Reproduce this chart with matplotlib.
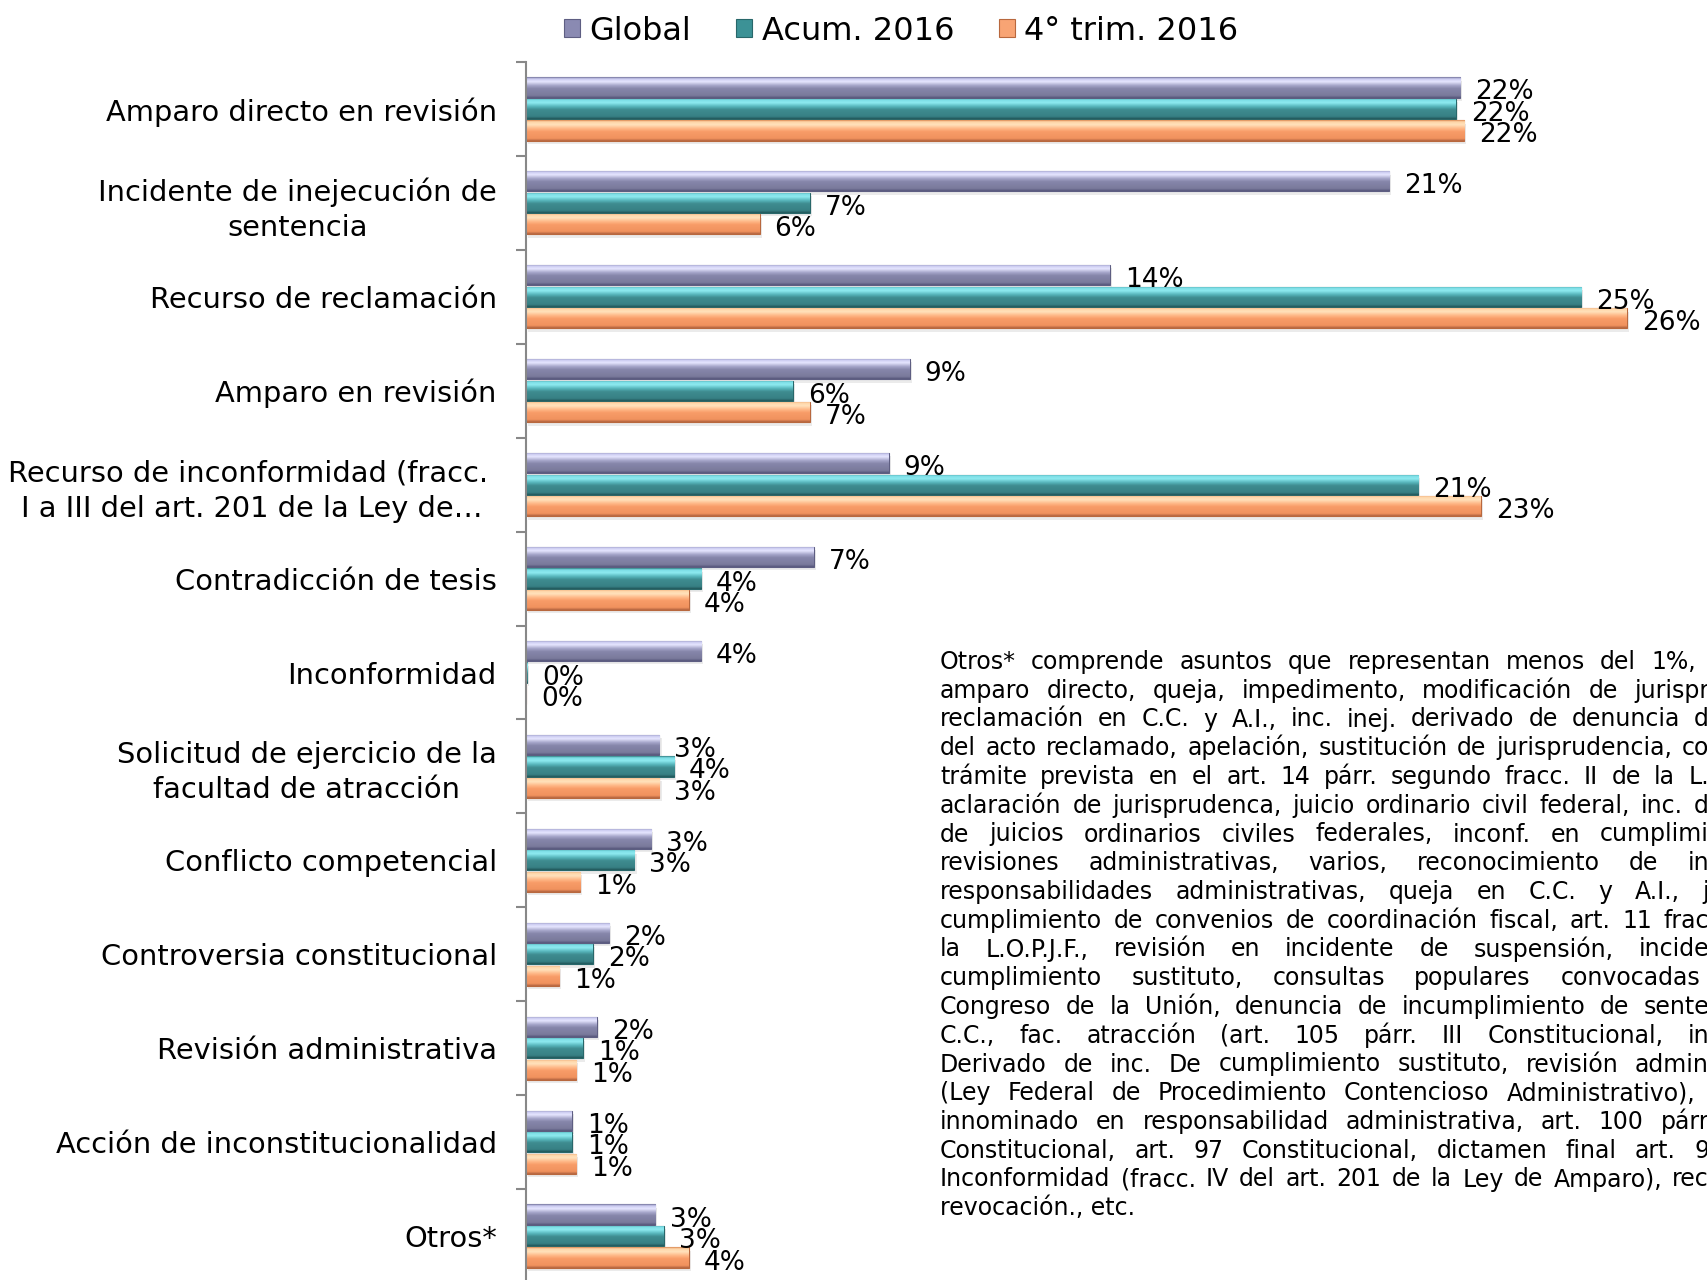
import numpy as np
import matplotlib
matplotlib.use("Agg")
import matplotlib.pyplot as plt
from matplotlib.colors import LinearSegmentedColormap
from matplotlib.patches import Patch

plt.rcParams['font.family'] = ['DejaVu Sans']

categories = [
    "Amparo directo en revisión",
    "Incidente de inejecución de\nsentencia",
    "Recurso de reclamación",
    "Amparo en revisión",
    "Recurso de inconformidad (fracc. \nI a III del art. 201 de la Ley de…",
    "Contradicción de tesis",
    "Inconformidad",
    "Solicitud de ejercicio de la\nfacultad de atracción",
    "Conflicto competencial",
    "Controversia constitucional",
    "Revisión administrativa",
    "Acción de inconstitucionalidad",
    "Otros*",
]
series_names = ["Global", "Acum. 2016", "4° trim. 2016"]
global_vals = [22.4, 20.7, 14.0, 9.2, 8.7, 6.9, 4.2, 3.2, 3.0, 2.0, 1.7, 1.1, 3.1]
acum_vals = [22.3, 6.8, 25.3, 6.4, 21.4, 4.2, 0.03, 3.55, 2.6, 1.6, 1.36, 1.1, 3.3]
trim_vals = [22.5, 5.6, 26.4, 6.8, 22.9, 3.9, 0.0, 3.2, 1.3, 0.8, 1.2, 1.2, 3.9]

note_lines = [
    "Otros* comprende asuntos que representan menos del 1%,",
    "amparo directo, queja, impedimento, modificación de jurispr",
    "reclamación en C.C. y A.I., inc. inej. derivado de denuncia d",
    "del acto reclamado, apelación, sustitución de jurisprudencia, co",
    "trámite prevista en el art. 14 párr. segundo fracc. II de la L.",
    "aclaración de jurisprudenca, juicio ordinario civil federal, inc. d",
    "de juicios ordinarios civiles federales, inconf. en cumplimi",
    "revisiones administrativas, varios, reconocimiento de in",
    "responsabilidades administrativas, queja en C.C. y A.I., j",
    "cumplimiento de convenios de coordinación fiscal, art. 11 frac",
    "la L.O.P.J.F., revisión en incidente de suspensión, incide",
    "cumplimiento sustituto, consultas populares convocadas",
    "Congreso de la Unión, denuncia de incumplimiento de sente",
    "C.C., fac. atracción (art. 105 párr. III Constitucional, in",
    "Derivado de inc. De cumplimiento sustituto, revisión admin",
    "(Ley Federal de Procedimiento Contencioso Administrativo),",
    "innominado en responsabilidad administrativa,  art. 100 párr",
    "Constitucional, art. 97 Constitucional, dictamen final art. 9",
    "Inconformidad (fracc. IV del art. 201 de la Ley de Amparo), rec",
    "revocación., etc.",
]
# right end (px) of each justified line; None = not justified
note_ends = [1696, 1709, 1709, 1709, 1709, 1709, 1709, 1709, 1709, 1709,
             1709, 1700, 1709, 1709, 1709, 1695, 1709, 1709, 1709, None]

W, H = 1707, 1280
fig = plt.figure(figsize=(W / 100, H / 100), dpi=100)
ax_left, ax_top, ax_bottom = 526, 62, 1283
ax = fig.add_axes([ax_left / W, 1 - ax_bottom / H, (W - ax_left) / W, (ax_bottom - ax_top) / H])

px_per_pct = 41.7
xmax = (W - ax_left) / px_per_pct

stops = [
    [(0, '#6E6E96'), (0.08, '#C8C8EE'), (0.22, '#E6E6FF'), (0.40, '#A6A6CA'),
     (0.55, '#8686AA'), (0.88, '#7A7A9C'), (1, '#55557A')],
    [(0, '#2F7A7E'), (0.08, '#7ADCE4'), (0.22, '#8EEAF0'), (0.40, '#57B6BC'),
     (0.55, '#3F8C90'), (0.88, '#378084'), (1, '#205558')],
    [(0, '#D8844E'), (0.08, '#FFD4A6'), (0.22, '#FFE2BC'), (0.40, '#FFB888'),
     (0.55, '#F89C68'), (0.88, '#F0925E'), (1, '#B0623E')],
]
edge_cols = ['#5E5E82', '#28676A', '#B8683E']
legend_cols = ['#8A8AB2', '#3C9296', '#F8A474']

y = np.arange(len(categories))
pitch = 0.229
bar_h = 0.215
offsets = [-pitch, 0, pitch]
grad = np.linspace(0, 1, 256).reshape(-1, 1)

all_vals = [global_vals, acum_vals, trim_vals]
for vals, off, st, ec in zip(all_vals, offsets, stops, edge_cols):
    vals = np.array(vals)
    # soft shadow
    ax.barh(y + off + 0.035, vals, height=bar_h, left=0.05, color='k', alpha=0.08,
            zorder=1, linewidth=0)
    bars = ax.barh(y + off, vals, height=bar_h, color=st[4][1], edgecolor=ec,
                   linewidth=0.8, zorder=2)
    cmap = LinearSegmentedColormap.from_list('bev', st)
    for b in bars:
        w = b.get_width()
        if w <= 0:
            continue
        x0, y0, h = b.get_x(), b.get_y(), b.get_height()
        im = ax.imshow(grad, extent=[x0, x0 + w, y0 + h, y0], cmap=cmap, aspect='auto',
                       zorder=2.5, interpolation='bilinear')
        im.set_clip_path(b)
    for v, yy in zip(vals, y + off):
        ax.annotate(f"{v:.0f}%", xy=(v, yy), xytext=(15, -5), textcoords='offset pixels',
                    ha='left', va='center', fontsize=19, color='black', zorder=5,
                    annotation_clip=False)

ax.set_xlim(0, xmax)
ax.set_ylim(len(categories) - 0.5, -0.5)
ax.set_xticks([])
ax.set_yticks(y)
ax.set_yticklabels(categories, fontsize=20.8, linespacing=1.32)
for lbl in ax.get_yticklabels():
    lbl.set_multialignment('center')
ax.set_yticks(np.arange(-0.5, len(categories), 1), minor=True)
ax.tick_params(axis='y', which='major', length=0, pad=21)
ax.tick_params(axis='y', which='minor', length=7, width=1.5, color='#888888', direction='out')
for s in ['top', 'right', 'bottom']:
    ax.spines[s].set_visible(False)
ax.spines['left'].set_color('#888888')
ax.spines['left'].set_linewidth(1.5)
ax.patch.set_alpha(0)

handles = [Patch(facecolor=c, edgecolor=e, linewidth=0.8) for c, e in zip(legend_cols, edge_cols)]
fig.legend(handles, series_names, loc='center', bbox_to_anchor=(0.528, 1 - 31 / H), ncol=3,
           frameon=False, fontsize=23, handlelength=0.5, handleheight=0.5,
           handletextpad=0.3, columnspacing=1.4, borderaxespad=0)

# justified note text
note_fs = 17
renderer = fig.canvas.get_renderer()


def text_width(s):
    t = fig.text(0, 0, s, fontsize=note_fs)
    w = t.get_window_extent(renderer).width
    t.remove()
    return w


space_w = text_width("a a") - text_width("aa")
x_start = 940
for i, (line, xend) in enumerate(zip(note_lines, note_ends)):
    base = 669 + i * 28.75
    if xend is None:
        fig.text(x_start / W, 1 - base / H, line, fontsize=note_fs, va='baseline', ha='left')
        continue
    words = line.split()
    widths = [text_width(wd) for wd in words]
    gap = max(space_w, (xend - x_start - sum(widths)) / (len(words) - 1))
    x = x_start
    for wd, wdt in zip(words, widths):
        fig.text(x / W, 1 - base / H, wd, fontsize=note_fs, va='baseline', ha='left')
        x += wdt + gap

fig.savefig("out.png", dpi=100)
